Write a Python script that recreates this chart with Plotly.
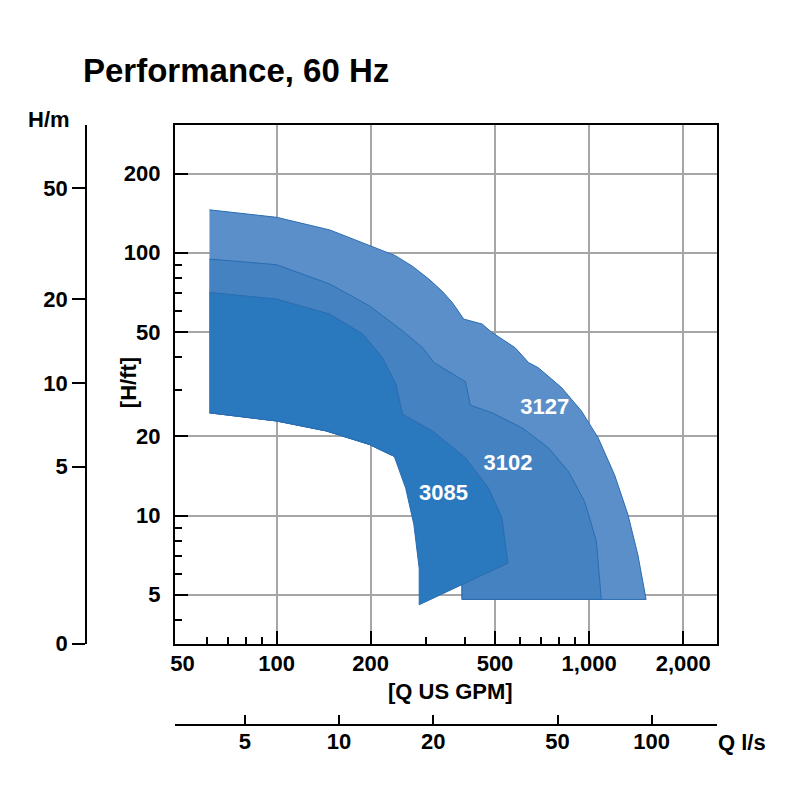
import numpy as np
import plotly.graph_objects as go

# pump curves, Q in US GPM, H in ft
pump_names = ["3127", "3102", "3085"]

q_3127 = [61, 100, 148, 198, 240, 272, 307, 339, 365, 397, 455, 489, 580, 640, 688, 816, 945,
          1068, 1206, 1331, 1432, 1522, 392, 392, 300, 280, 238, 198, 144, 100, 61]
h_3127 = [145.5, 136.3, 122, 106.3, 97.4, 88.8, 79.4, 71.3, 64.6, 55.9, 53.5, 49.7, 43.5, 38.2, 36.5,
          30.7, 25.0, 19.8, 14.3, 10.1, 7.1, 4.8, 4.8, 5.5, 9, 15, 16.8, 18.65, 21.0, 22.9, 24.6]

q_3102 = [61, 100, 148, 198, 253, 293, 319, 402, 417, 489, 609, 741, 858, 968, 1055,
          1094, 392, 392, 300, 280, 238, 198, 144, 100, 61]
h_3102 = [94.6, 90.0, 76.0, 62.8, 50.4, 43.5, 38.2, 32.3, 26.3, 24.6, 21.6, 18.1, 14.75, 11.3, 8.0,
          4.8, 4.8, 5.5, 9, 15, 16.8, 18.65, 21.0, 22.9, 24.6]

q_3085 = [61, 100, 148, 189, 218, 241, 253, 315, 402, 477, 526, 550, 286, 286, 275, 259,
          238, 198, 144, 100, 61]
h_3085 = [70.6, 66.6, 58.4, 49.0, 39.9, 31.6, 24.3, 21.0, 16.6, 12.7, 9.8, 6.6, 4.58, 6.3, 9.24, 12.7,
          16.8, 18.65, 21.0, 22.9, 24.6]

label_q = [721, 550, 342]
label_h = [25.6, 15.7, 12.06]

# axes
q_range = [47.3, 2570]          # US GPM
h_range = [3.26, 305]           # ft
hm_range = [1.155, 84.3]        # m scale as printed
gpm_per_ls = 15.85

x_major = [100, 200, 500, 1000, 2000]
x_minor = [60, 70, 80, 90, 300, 400, 600, 700, 800, 900]
x_label_vals = [50, 100, 200, 500, 1000, 2000]
x_label_text = ["50", "100", "200", "500", "1,000", "2,000"]
y_major = [5, 10, 20, 50, 100, 200]
y_minor = [4, 6, 7, 8, 9, 30, 40, 60, 70, 80, 90]
hm_ticks = [50, 20, 10, 5]
ls_ticks = [5, 10, 20, 50, 100]

colors = ["#5b8fc9", "#4582c2", "#2a78bd"]
edge = "#2a6cb0"
FONT = "Liberation Sans, Arial, sans-serif"
FIG_H = 815

fig = go.Figure()
for q, h, c in zip([q_3127, q_3102, q_3085], [h_3127, h_3102, h_3085], colors):
    fig.add_trace(go.Scatter(x=q, y=h, fill="toself", fillcolor=c, mode="lines",
                             line=dict(color=edge, width=1), hoverinfo="skip", showlegend=False))

fig.add_trace(go.Scatter(x=label_q, y=label_h, mode="text", text=pump_names,
                         textfont=dict(color="white", size=22, family=FONT, weight="bold"),
                         hoverinfo="skip", showlegend=False))

# empty traces so the extra axes get drawn
fig.add_trace(go.Scatter(x=[], y=[], xaxis="x2", yaxis="y", showlegend=False))
fig.add_trace(go.Scatter(x=[], y=[], xaxis="x3", yaxis="y", showlegend=False))
fig.add_trace(go.Scatter(x=[], y=[], xaxis="x", yaxis="y2", showlegend=False))

tickfont = dict(family=FONT, size=22, color="black", weight="bold")
log = np.log10

fig.update_layout(
    width=800, height=FIG_H,
    margin=dict(l=0, r=0, t=0, b=0),
    paper_bgcolor="white", plot_bgcolor="white",
    showlegend=False,
    font=dict(family=FONT, color="black"),
    title=dict(text="Performance, 60 Hz", x=0.10375, xanchor="left", y=0.9135, yanchor="middle",
               font=dict(family=FONT, size=33, color="black", weight="bold")),
    xaxis=dict(type="log", range=[log(q_range[0]), log(q_range[1])], domain=[0.21375, 0.89588],
               tickvals=x_major, showticklabels=False, ticks="inside", ticklen=13, tickwidth=2,
               tickcolor="black", showgrid=True, gridcolor="#a6a6a6", gridwidth=2,
               showline=True, linecolor="black", linewidth=2, mirror=True, zeroline=False,
               minor=dict(tickvals=x_minor, ticks="inside", ticklen=7, tickwidth=2,
                          tickcolor="black", showgrid=False)),
    xaxis3=dict(type="log", range=[log(q_range[0]), log(q_range[1])], overlaying="x", anchor="y",
                side="bottom", tickvals=x_label_vals, ticktext=x_label_text, ticks="",
                showgrid=False, showline=False, zeroline=False, tickfont=tickfont,
                ticklabelstandoff=4),
    xaxis2=dict(type="log", range=[log(q_range[0] / gpm_per_ls), log(q_range[1] / gpm_per_ls)],
                overlaying="x", anchor="free", position=0.09625, side="bottom",
                tickvals=ls_ticks, ticktext=[str(v) for v in ls_ticks], ticks="inside", ticklen=9,
                tickwidth=2, tickcolor="black", showgrid=False, showline=True, linecolor="black",
                linewidth=2, zeroline=False, tickfont=tickfont, ticklabelstandoff=-3),
    yaxis=dict(type="log", range=[log(h_range[0]), log(h_range[1])], domain=[0.1975, 0.84375],
               tickvals=y_major, ticktext=[str(v) for v in y_major], ticks="inside", ticklen=13,
               tickwidth=2, tickcolor="black", showgrid=True, gridcolor="#a6a6a6", gridwidth=2,
               showline=True, linecolor="black", linewidth=2, mirror=True, zeroline=False,
               tickfont=tickfont, ticklabelstandoff=8,
               minor=dict(tickvals=y_minor, ticks="inside", ticklen=7, tickwidth=2,
                          tickcolor="black", showgrid=False)),
    yaxis2=dict(type="log", range=[log(hm_range[0]), log(hm_range[1])], overlaying="y",
                anchor="free", position=0.1021, side="left",
                tickvals=hm_ticks + [hm_range[0]], ticktext=[str(v) for v in hm_ticks] + ["0"],
                ticks="outside", ticklen=13, tickwidth=2, tickcolor="black", showgrid=False,
                showline=True, linecolor="black", linewidth=2, zeroline=False, tickfont=tickfont),
)

ann_font = dict(family=FONT, size=22, color="black", weight="bold")
ann = dict(xref="paper", yref="paper", showarrow=False, font=ann_font,
           xanchor="center", yanchor="middle")
fig.add_annotation(text="[Q US GPM]", x=0.56, y=0.1375, **ann)
fig.add_annotation(text="[H/ft]", x=0.15625, y=0.5225, textangle=-90, **ann)
fig.add_annotation(text="H/m", x=0.055, y=0.85125, **ann)
fig.add_annotation(text="Q l/s", x=0.927, y=0.07375, **ann)

page_css = ("var s=document.documentElement.style;s.overflow='hidden';s.height='%dpx';"
            "var b=document.body.style;b.margin='0';b.height='%dpx';b.overflow='hidden';"
            % (FIG_H, FIG_H))
fig.write_html("out.html", config={"displayModeBar": False}, post_script=page_css)
